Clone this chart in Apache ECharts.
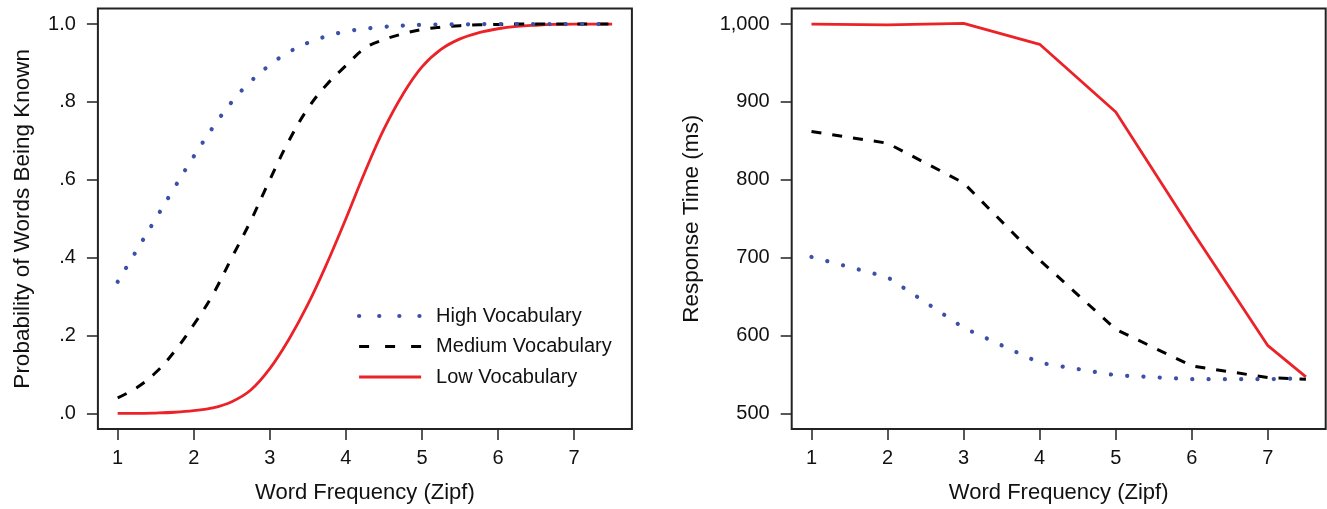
<!DOCTYPE html>
<html>
<head>
<meta charset="utf-8">
<script src="https://cdn.jsdelivr.net/npm/echarts@6/dist/echarts.min.js"></script>
<style>
html,body{margin:0;padding:0;background:#fff;}
#c{width:1327px;height:509px;}
</style>
</head>
<body>
<div id="c"></div>
<script>
// ---- Left panel: probability of words being known ----
const xsLeft = [1,1.25,1.5,1.75,2,2.25,2.5,2.75,3,3.25,3.5,3.75,4,4.25,4.5,4.75,5,5.25,5.5,5.75,6,6.25,6.5,6.75,7,7.25,7.5];
const probHigh = [.338,.419,.500,.581,.660,.734,.800,.853,.895,.928,.952,.969,.981,.988,.993,.996,.998,.999,.999,1,1,1,1,1,1,1,1];
const probMedium = [.040,.066,.105,.160,.228,.305,.400,.495,.600,.700,.783,.845,.893,.938,.960,.975,.986,.992,.996,.998,.999,1,1,1,1,1,1];
const probLow = [.000,.000,.001,.003,.007,.014,.030,.060,.115,.190,.280,.385,.500,.620,.730,.820,.890,.935,.962,.978,.988,.994,.997,.999,1,1,1];

// ---- Right panel: response time ----
const xsRight = [1,2,3,4,5,6,7,7.5];
const rtHigh = [701,675,610,565,549,544,544,545];
const rtMedium = [862,847,796,697,608,561,546,544];
const rtLow = [1000,999,1001,974,887,735,587,547];

// ---- Tick values and labels ----
const xTicks = [1,2,3,4,5,6,7];
const probTicks = [0,0.2,0.4,0.6,0.8,1.0];
const probTickLabels = ['.0','.2','.4','.6','.8','1.0'];
const rtTicks = [500,600,700,800,900,1000];
const rtTickLabels = ['500','600','700','800','900','1,000'];

const seriesNames = ['High Vocabulary','Medium Vocabulary','Low Vocabulary'];
const xTitle = 'Word Frequency (Zipf)';
const yTitleLeft = 'Probability of Words Being Known';
const yTitleRight = 'Response Time (ms)';

const FONT = "'Liberation Sans',Arial,sans-serif";
const BLUE = '#3b50a6', BLACK = '#000000', RED = '#ec2229';
const styles = [
  {color: BLUE, width: 4.2, type: [0.1, 16.2], cap: 'round'},
  {color: BLACK, width: 3, type: [10, 11], cap: 'butt'},
  {color: RED, width: 2.8, type: 'solid', cap: 'butt'}
];

const zip = (xs, ys) => xs.map((x, i) => [x, ys[i]]);

function xAxisDef(idx) {
  return {
    type: 'value', gridIndex: idx, min: 0.74, max: 7.76,
    name: xTitle, nameLocation: 'middle', nameGap: 53,
    nameTextStyle: {fontFamily: FONT, fontSize: 22, color: '#111'},
    axisLine: {show: false, onZero: false},
    axisTick: {show: true, length: 11, customValues: xTicks, lineStyle: {color: '#222', width: 1.5}},
    axisLabel: {customValues: xTicks, margin: 19, fontFamily: FONT, fontSize: 20, color: '#111',
      formatter: v => String(v)},
    splitLine: {show: false}
  };
}

const option = {
  animation: false,
  backgroundColor: '#fff',
  grid: [
    {left: 97.9, top: 8.5, width: 534, height: 422, show: true, borderColor: '#222', borderWidth: 2, backgroundColor: 'transparent'},
    {left: 791.7, top: 8.5, width: 534, height: 422, show: true, borderColor: '#222', borderWidth: 2, backgroundColor: 'transparent'}
  ],
  xAxis: [xAxisDef(0), xAxisDef(1)],
  yAxis: [
    {
      type: 'value', gridIndex: 0, min: -0.04, max: 1.04,
      name: yTitleLeft, nameLocation: 'middle', nameGap: 64, nameRotate: 90,
      nameTextStyle: {fontFamily: FONT, fontSize: 22.5, color: '#111'},
      axisLine: {show: false, onZero: false},
      axisTick: {show: true, length: 11, customValues: probTicks, lineStyle: {color: '#222', width: 1.5}},
      axisLabel: {customValues: probTicks, margin: 22, fontFamily: FONT, fontSize: 20, color: '#111',
        formatter: v => { const i = probTicks.findIndex(t => Math.abs(t - v) < 1e-6); return i >= 0 ? probTickLabels[i] : ''; }},
      splitLine: {show: false}
    },
    {
      type: 'value', gridIndex: 1, min: 480, max: 1020,
      name: yTitleRight, nameLocation: 'middle', nameGap: 88, nameRotate: 90,
      nameTextStyle: {fontFamily: FONT, fontSize: 22.5, color: '#111'},
      axisLine: {show: false, onZero: false},
      axisTick: {show: true, length: 11, customValues: rtTicks, lineStyle: {color: '#222', width: 1.5}},
      axisLabel: {customValues: rtTicks, margin: 22, fontFamily: FONT, fontSize: 20, color: '#111',
        formatter: v => { const i = rtTicks.indexOf(v); return i >= 0 ? rtTickLabels[i] : ''; }},
      splitLine: {show: false}
    }
  ],
  legend: {
    left: 352, top: 296, orient: 'vertical',
    itemWidth: 62, itemHeight: 14, itemGap: 0.5,
    itemStyle: {opacity: 0},
    textStyle: {fontFamily: FONT, fontSize: 20, color: '#111', lineHeight: 30, padding: [0, 0, 0, 10]},
    data: [
      {name: seriesNames[0], itemStyle: {opacity: 0}, lineStyle: {type: [0.1, 20], width: 4.2, cap: 'round', color: BLUE}},
      {name: seriesNames[1], itemStyle: {opacity: 0}, lineStyle: {type: [10, 16], width: 3, color: BLACK}},
      {name: seriesNames[2], itemStyle: {opacity: 0}, lineStyle: {type: 'solid', width: 3, color: RED}}
    ]
  },
  series: []
};

const leftData = [probHigh, probMedium, probLow];
const rightData = [rtHigh, rtMedium, rtLow];
seriesNames.forEach((name, i) => {
  const ls = styles[i];
  option.series.push({
    name, type: 'line', xAxisIndex: 0, yAxisIndex: 0,
    data: zip(xsLeft, leftData[i]), smooth: 0.4, symbol: 'none',
    lineStyle: {color: ls.color, width: ls.width, type: ls.type, cap: ls.cap},
    itemStyle: {color: ls.color}, z: 3 - i + 2
  });
  option.series.push({
    name, type: 'line', xAxisIndex: 1, yAxisIndex: 1,
    data: zip(xsRight, rightData[i]), smooth: false, symbol: 'none',
    lineStyle: {color: ls.color, width: ls.width, type: ls.type, cap: ls.cap},
    itemStyle: {color: ls.color}, z: 3 - i + 2
  });
});

const chart = echarts.init(document.getElementById('c'), null, {renderer: 'canvas'});
chart.setOption(option);
</script>
</body>
</html>
